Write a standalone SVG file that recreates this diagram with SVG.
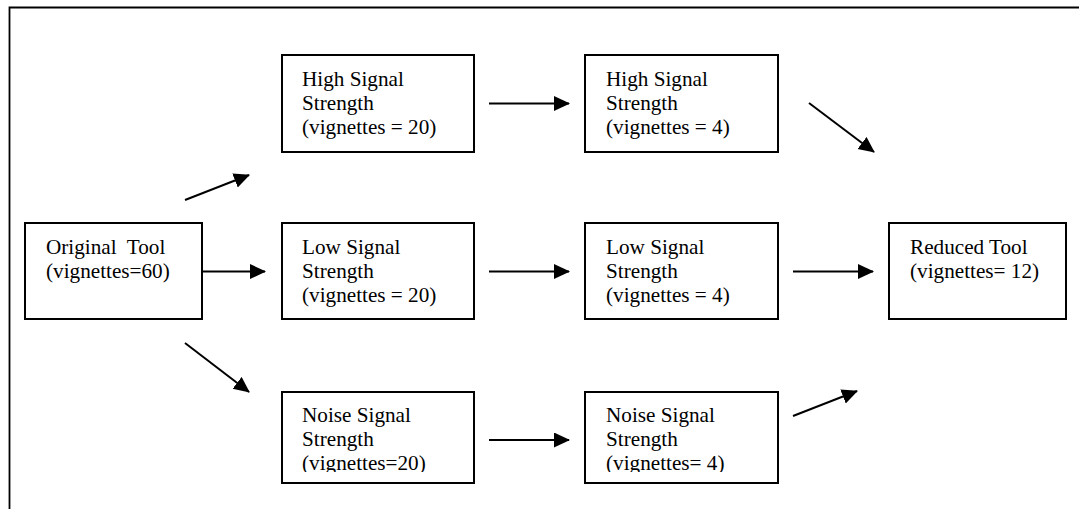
<svg xmlns="http://www.w3.org/2000/svg" width="1079" height="509" viewBox="0 0 1079 509">
<style>
.box{fill:#fff;stroke:#000;stroke-width:2}
.t{font-family:"Liberation Serif","Times New Roman",serif;font-size:21.2px;fill:#000;white-space:pre}
.c line{stroke:#000;stroke-width:2;marker-end:url(#ah)}
.frame{stroke:#000;stroke-width:1.8;fill:none}
</style>
<defs>
<marker id="ah" markerUnits="userSpaceOnUse" markerWidth="18" markerHeight="16" refX="15" refY="7.5" orient="auto">
<path d="M0,0 L16,7.5 L0,15 z" fill="#000"/>
</marker>
<clipPath id="clipN1"><rect x="282" y="392" width="192" height="80"/></clipPath>
<clipPath id="clipN2"><rect x="585" y="392" width="193" height="80"/></clipPath>
</defs>
<rect width="1079" height="509" fill="#fff"/>
<path class="frame" d="M9.5,509 V7.5 H1079"/>
<g id="original">
<rect class="box" x="25" y="223" width="177" height="96"/>
<text class="t" x="46" y="254">Original  Tool</text>
<text class="t" x="46" y="278">(vignettes=60)</text>
</g>
<g id="high1">
<rect class="box" x="282" y="55" width="192" height="97"/>
<text class="t" x="302" y="86">High Signal</text>
<text class="t" x="302" y="110">Strength</text>
<text class="t" x="302" y="134">(vignettes = 20)</text>
</g>
<g id="high2">
<rect class="box" x="585" y="55" width="193" height="97"/>
<text class="t" x="606" y="86">High Signal</text>
<text class="t" x="606" y="110">Strength</text>
<text class="t" x="606" y="134">(vignettes = 4)</text>
</g>
<g id="low1">
<rect class="box" x="282" y="223" width="192" height="96"/>
<text class="t" x="302" y="254">Low Signal</text>
<text class="t" x="302" y="278">Strength</text>
<text class="t" x="302" y="302">(vignettes = 20)</text>
</g>
<g id="low2">
<rect class="box" x="585" y="223" width="193" height="96"/>
<text class="t" x="606" y="254">Low Signal</text>
<text class="t" x="606" y="278">Strength</text>
<text class="t" x="606" y="302">(vignettes = 4)</text>
</g>
<g id="noise1">
<rect class="box" x="282" y="392" width="192" height="91"/>
<g clip-path="url(#clipN1)">
<text class="t" x="302" y="422">Noise Signal</text>
<text class="t" x="302" y="446">Strength</text>
<text class="t" x="302" y="470">(vignettes=20)</text>
</g>
</g>
<g id="noise2">
<rect class="box" x="585" y="392" width="193" height="91"/>
<g clip-path="url(#clipN2)">
<text class="t" x="606" y="422">Noise Signal</text>
<text class="t" x="606" y="446">Strength</text>
<text class="t" x="606" y="470">(vignettes= 4)</text>
</g>
</g>
<g id="reduced">
<rect class="box" x="889" y="223" width="177" height="96"/>
<text class="t" x="910" y="254">Reduced Tool</text>
<text class="t" x="910" y="278">(vignettes= 12)</text>
</g>
<g id="connectors" class="c">
<line x1="185" y1="200" x2="249" y2="175"/>
<line x1="202" y1="271.5" x2="265" y2="271.5"/>
<line x1="185" y1="343" x2="249" y2="392"/>
<line x1="489" y1="103.5" x2="569" y2="103.5"/>
<line x1="489" y1="271.5" x2="569" y2="271.5"/>
<line x1="489" y1="440" x2="569" y2="440"/>
<line x1="809" y1="103" x2="874" y2="152"/>
<line x1="793" y1="271.5" x2="873" y2="271.5"/>
<line x1="793" y1="416" x2="857" y2="391"/>
</g>
</svg>
